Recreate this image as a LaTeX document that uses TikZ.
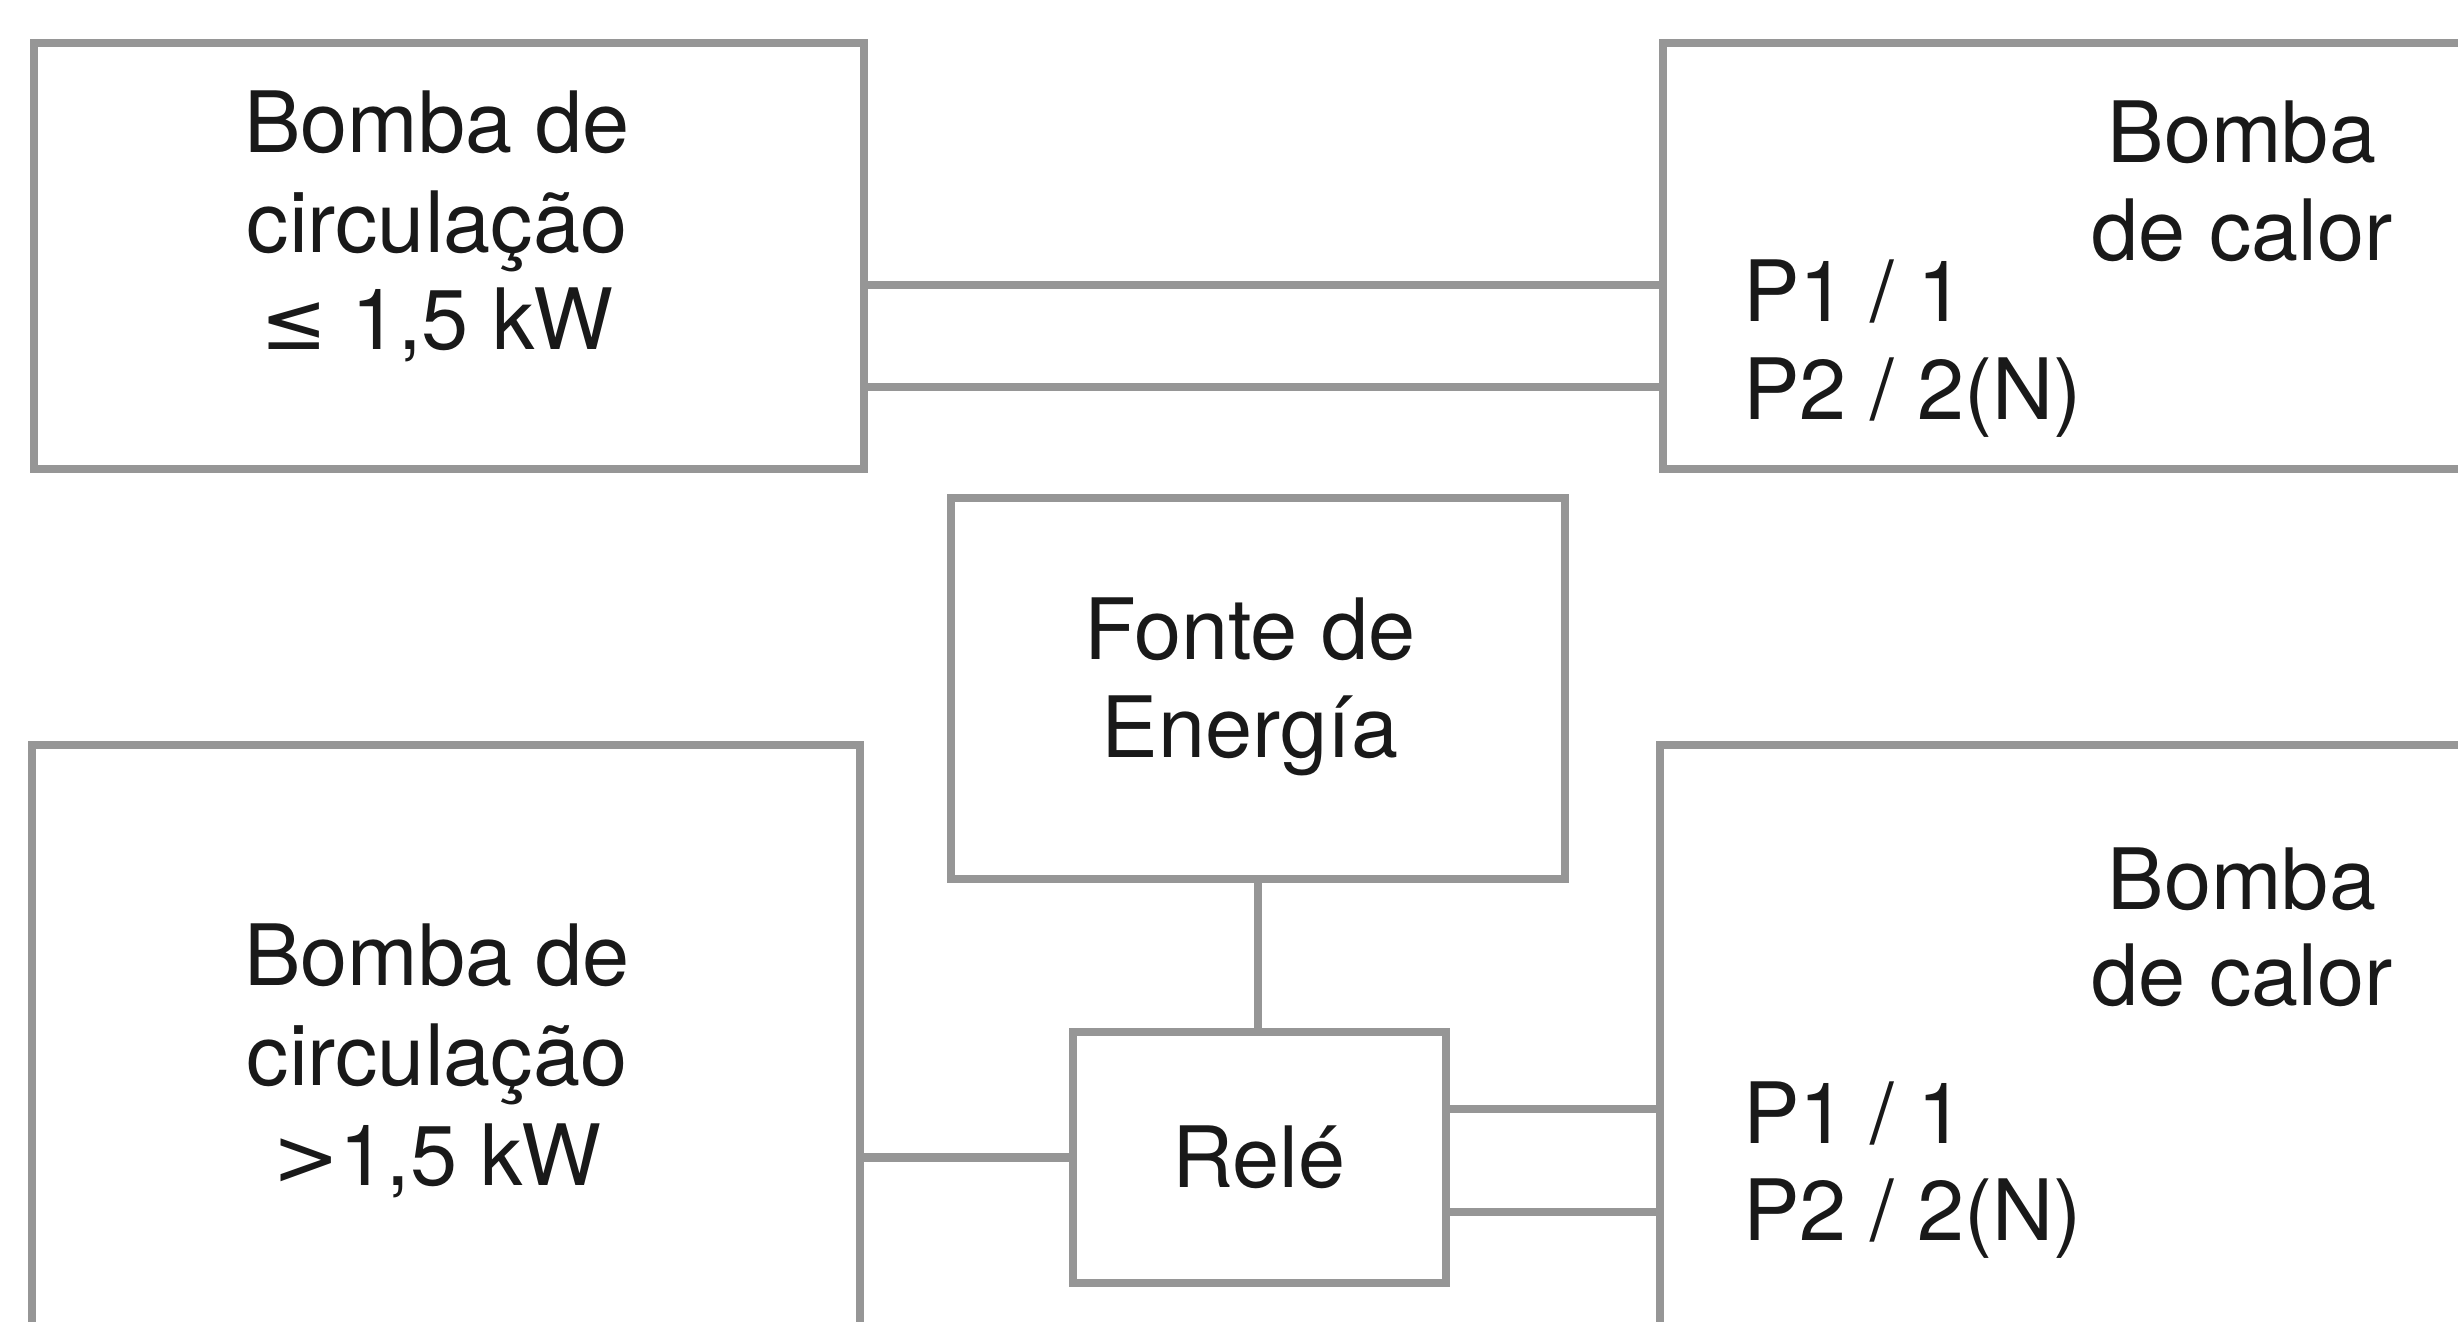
\documentclass[tikz,border=0pt]{standalone}
\usepackage{fontspec}
\setmainfont{TeX Gyre Heros}
\newfontfamily\symfont{DejaVu Sans}[Scale=0.95]
\usetikzlibrary{calc}
\definecolor{linegray}{RGB}{150,150,150}
\definecolor{txt}{RGB}{25,25,25}
\begin{document}
\begin{tikzpicture}[x=0.3pt,y=-0.3pt,
  box/.style={draw=linegray, line width=2.5pt, inner sep=0pt, outer sep=0pt, rectangle},
  wire/.style={draw=linegray, line width=2.5pt},
  lbl/.style={anchor=base, inner sep=0pt, outer sep=0pt, font=\fontsize{25.4}{30}\selectfont, text=txt},
  lbll/.style={lbl, anchor=base west}]
\useasboundingbox (0,0) rectangle (2458,1322);
\clip (0,0) rectangle (2458,1322);
% boxes
\node[box, minimum width=249pt, minimum height=127.8pt] (tl) at (449,256) {};
\node[box, minimum width=257.1pt, minimum height=127.8pt] (tr) at (2091.5,256) {};
\node[box, minimum width=184.2pt, minimum height=114.3pt] (fe) at (1258,688.5) {};
\node[box, minimum width=248.4pt, minimum height=202.5pt] (bl) at (446,1082.5) {};
\node[box, minimum width=258pt, minimum height=202.5pt] (br) at (2090,1082.5) {};
\node[box, minimum width=111.9pt, minimum height=75.3pt] (rl) at (1259.5,1157.5) {};
% texts
\node[lbl] (tl1) at (437,153) {Bomba de};
\node[lbl] (tl2) at (437,253) {circulação};
\node[lbl] (tl3) at (437,350) {{\symfont ≤} 1,5 kW};
\node[lbl] (bl1) at (437,985) {Bomba de};
\node[lbl] (bl2) at (437,1085) {circulação};
\node[lbl] (bl3) at (437,1185) {{\symfont >}1,5 kW};
\node[lbl] (tr1) at (2242,163) {Bomba};
\node[lbl] (tr2) at (2242,261) {de calor};
\node[lbll] (tr3) at (1743,322) {P1 / 1};
\node[lbll] (tr4) at (1743,420) {P2 / 2(N)};
\node[lbl] (br1) at (2242,909) {Bomba};
\node[lbl] (br2) at (2242,1005) {de calor};
\node[lbll] (br3) at (1743,1143) {P1 / 1};
\node[lbll] (br4) at (1743,1240) {P2 / 2(N)};
\node[lbl] (fe1) at (1250,659) {Fonte de};
\node[lbl] (fe2) at (1250,757) {Energía};
\node[lbl] (rl1) at (1259,1187) {Relé};
% connectors
\draw[wire] ([yshift=-8.7pt]tl.east) -- ([yshift=-8.7pt]tl.east -| tr.west);
\draw[wire] ([yshift=-39.3pt]tl.east) -- ([yshift=-39.3pt]tl.east -| tr.west);
\draw[wire] (fe.south) -- (fe.south |- rl.north);
\draw[wire] (rl.west) -- (rl.west -| bl.east);
\draw[wire] ([yshift=14.55pt]rl.east) -- ([yshift=14.55pt]rl.east -| br.west);
\draw[wire] ([yshift=-16.35pt]rl.east) -- ([yshift=-16.35pt]rl.east -| br.west);
\end{tikzpicture}
\end{document}
